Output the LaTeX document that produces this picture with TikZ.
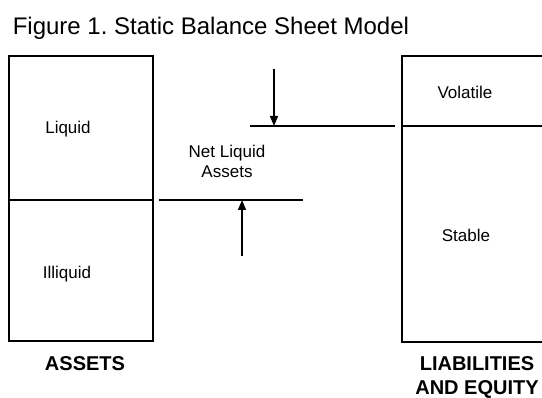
\documentclass[tikz,border=0pt]{standalone}
\usepackage{fontspec}
\setmainfont{Liberation Sans}
\usetikzlibrary{arrows.meta}
\begin{document}
\begin{tikzpicture}[x=1pt, y=-1pt, line width=1.6pt,
  part/.style={draw, inner sep=0pt},
  lbl/.style={font=\fontsize{17}{20}\selectfont, inner sep=0pt, anchor=base, align=center},
  side/.style={font=\fontsize{20}{24}\selectfont\bfseries, inner sep=0pt, anchor=base, align=center},
  arr/.style={line width=1.3pt, -{Triangle[width=8pt,length=10pt]}}]
\clip (0,0) rectangle (542,398);
\node[font=\fontsize{24}{28}\selectfont, anchor=base west, inner sep=0pt] (title) at (12,35) {Figure 1.\ Static Balance Sheet Model};
% assets side
\node[part, minimum width=144pt, minimum height=144pt] (liq) at (81,128) {};
\node[part, minimum width=144pt, minimum height=141pt] (illiq) at (81,270.5) {};
\node[lbl] (liqtxt) at (68,134) {Liquid};
\node[lbl] (illiqtxt) at (67,279) {Illiquid};
\node[side] (assets) at (85,371) {ASSETS};
% liabilities side
\node[part, minimum width=158pt, minimum height=70pt] (vol) at (481,91) {};
\node[part, minimum width=158pt, minimum height=216pt] (stab) at (481,234) {};
\node[lbl] (voltxt) at (465,99) {Volatile};
\node[lbl] (stabtxt) at (466,242) {Stable};
\node[side] (liab) at (477,395) {LIABILITIES\\AND EQUITY};
% net liquid assets
\coordinate (hi_l) at (250,126);
\coordinate (hi_r) at (395,126);
\draw (hi_l) -- (hi_r);
\coordinate (lo_l) at (159,200);
\coordinate (lo_r) at (303,200);
\draw (lo_l) -- (lo_r);
\coordinate (down) at (274,69);
\draw[arr] (down) -- (down |- hi_l);
\coordinate (up) at (242,256);
\draw[arr] (up) -- (up |- lo_l);
\node[lbl] (nla) at (227,178) {Net Liquid\\Assets};
\end{tikzpicture}
\end{document}
